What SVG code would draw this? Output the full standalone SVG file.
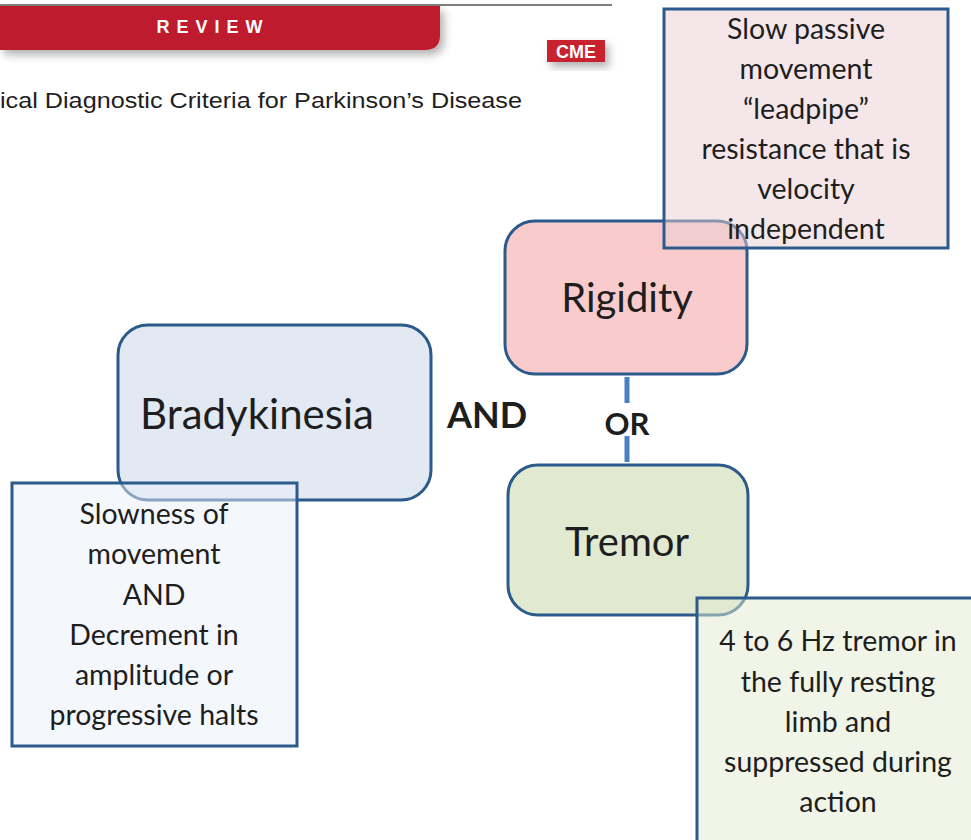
<svg xmlns="http://www.w3.org/2000/svg" width="971" height="840" viewBox="0 0 971 840">
<defs>
<filter id="sh" x="-10%" y="-20%" width="130%" height="160%"><feDropShadow dx="4" dy="5" stdDeviation="4" flood-color="#000" flood-opacity="0.3"/></filter>
</defs>
<style>
.node{stroke:#2b5a8b;stroke-width:3}
.lbl{font-family:Lato,"Noto Sans",sans-serif;fill:#1e1e1e;text-anchor:middle}
.txt{font-size:28.5px}
.bold{font-family:Lato,"Noto Sans",sans-serif;font-weight:bold;fill:#1e1e1e;text-anchor:middle}
.conn{stroke:#4a7fc1;stroke-width:5}
</style>
<rect width="971" height="840" fill="#fff"/>
<g id="header">
<line x1="0" y1="5" x2="612" y2="5" stroke="#555" stroke-width="1.5"/>
<path d="M0 6 H440 V35 Q440 50 425 50 H0 Z" fill="#be1e2d" filter="url(#sh)"/>
<text x="213" y="33" font-family="Liberation Sans,Arial,sans-serif" font-weight="bold" font-size="18" fill="#fff" text-anchor="middle" letter-spacing="7">REVIEW</text>
<rect x="547" y="40" width="58" height="22" fill="#c8202f" filter="url(#sh)"/>
<text x="576" y="58" font-family="Liberation Sans,Arial,sans-serif" font-weight="bold" font-size="18" fill="#fff" text-anchor="middle">CME</text>
<text x="0" y="108" font-family="Liberation Sans,Arial,sans-serif" font-size="22" fill="#1e1e1e" textLength="522" lengthAdjust="spacingAndGlyphs">ical Diagnostic Criteria for Parkinson’s Disease</text>
</g>
<g id="connectors">
<line class="conn" x1="627" y1="377" x2="627" y2="403"/>
<line class="conn" x1="627" y1="436" x2="627" y2="462"/>
<text class="bold" x="627" y="435" font-size="31">OR</text>
<text class="bold" x="487" y="428" font-size="36">AND</text>
</g>
<g id="bradykinesia">
<rect class="node" x="118" y="325" width="313" height="175" rx="30" fill="#e2e9f3"/>
<text class="lbl" x="257" y="429" font-size="42">Bradykinesia</text>
</g>
<g id="rigidity">
<rect class="node" x="505" y="221" width="242" height="153" rx="30" fill="#f9cbcc"/>
<text class="lbl" x="627" y="312" font-size="40">Rigidity</text>
</g>
<g id="tremor">
<rect class="node" x="508" y="465" width="240" height="150" rx="30" fill="#e1e9d1"/>
<text class="lbl" x="627" y="556" font-size="40">Tremor</text>
</g>
<g id="rigidity-desc">
<rect class="node" x="664" y="9" width="284" height="239" fill="#eccfd3" fill-opacity="0.5"/>
<text class="lbl txt" x="806" y="39">Slow passive</text>
<text class="lbl txt" x="806" y="79">movement</text>
<text class="lbl txt" x="806" y="119">“leadpipe”</text>
<text class="lbl txt" x="806" y="159">resistance that is</text>
<text class="lbl txt" x="806" y="199">velocity</text>
<text class="lbl txt" x="806" y="239">independent</text>
</g>
<g id="bradykinesia-desc">
<rect class="node" x="12" y="483" width="285" height="263" fill="#e9f0fa" fill-opacity="0.5"/>
<text class="lbl txt" x="154" y="524">Slowness of</text>
<text class="lbl txt" x="154" y="564">movement</text>
<text class="lbl txt" x="154" y="605">AND</text>
<text class="lbl txt" x="154" y="645">Decrement in</text>
<text class="lbl txt" x="154" y="685">amplitude or</text>
<text class="lbl txt" x="154" y="725">progressive halts</text>
</g>
<g id="tremor-desc">
<rect class="node" x="697" y="598" width="290" height="260" fill="#e1ebd2" fill-opacity="0.5"/>
<text class="lbl txt" x="838" y="651">4 to 6 Hz tremor in</text>
<text class="lbl txt" x="838" y="692">the fully resting</text>
<text class="lbl txt" x="838" y="732">limb and</text>
<text class="lbl txt" x="838" y="772">suppressed during</text>
<text class="lbl txt" x="838" y="812">action</text>
</g>
</svg>
